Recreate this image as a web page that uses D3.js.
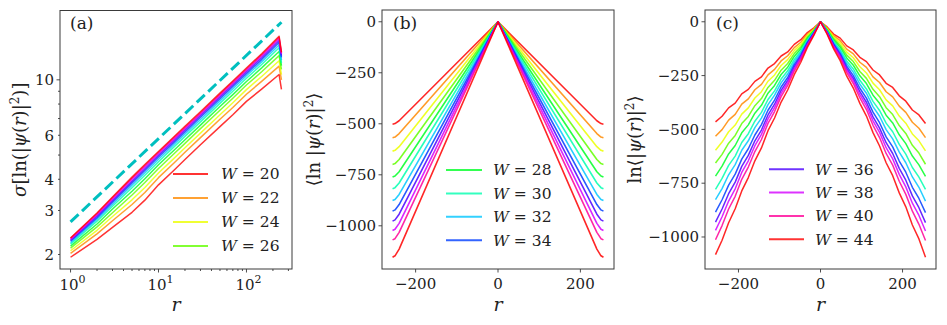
<!DOCTYPE html>
<html><head><meta charset="utf-8">
<script src="https://cdn.jsdelivr.net/npm/d3@7"></script>
<style>
body{margin:0;background:#fff;}
svg text{font-family:"DejaVu Serif","Liberation Serif",serif;fill:#222;}
</style></head><body>
<svg id="chart" width="947" height="325"></svg>
<script>
// ---------------- data ----------------
const W_values = [20,22,24,26,28,30,32,34,36,38,40,44];
const colors = ["#ff0000","#ff8900","#ecff00","#63ff00","#00ff26","#00ffaf","#00c6ff","#003dff","#4b00ff","#d400ff","#ff0098","#ff0000"];

// panel (a): sigma[ln|psi(r)|^2] vs r (log-log)
const rA = [1,2,3,5,7,10,15,20,30,50,70,100,150,235,250];
const sigmaA = [
 [1.95,2.30,2.57,2.95,3.30,3.80,4.35,4.80,5.50,6.50,7.25,8.20,9.20,10.5,9.15],
 [2.02,2.42,2.73,3.17,3.54,4.06,4.65,5.13,5.87,6.95,7.75,8.76,9.88,11.35,10.0],
 [2.07,2.50,2.84,3.31,3.71,4.24,4.85,5.35,6.12,7.25,8.10,9.14,10.34,11.92,10.5],
 [2.12,2.58,2.94,3.46,3.88,4.42,5.06,5.57,6.38,7.56,8.44,9.53,10.80,12.5,11.0],
 [2.16,2.65,3.04,3.58,4.02,4.57,5.23,5.76,6.59,7.82,8.73,9.85,11.19,12.99,11.4],
 [2.20,2.72,3.12,3.70,4.15,4.70,5.39,5.94,6.79,8.05,9.00,10.15,11.54,13.44,11.7],
 [2.23,2.77,3.18,3.79,4.25,4.81,5.51,6.07,6.94,8.24,9.21,10.38,11.83,13.79,12.0],
 [2.26,2.81,3.24,3.87,4.34,4.91,5.62,6.19,7.08,8.40,9.40,10.59,12.08,14.1,12.3],
 [2.28,2.85,3.29,3.93,4.41,4.99,5.72,6.30,7.20,8.55,9.56,10.77,12.29,14.37,12.5],
 [2.30,2.88,3.33,3.99,4.48,5.06,5.79,6.38,7.29,8.66,9.69,10.91,12.47,14.59,12.7],
 [2.32,2.91,3.37,4.04,4.53,5.12,5.86,6.45,7.37,8.76,9.79,11.03,12.61,14.77,12.8],
 [2.33,2.93,3.40,4.08,4.58,5.17,5.92,6.52,7.45,8.85,9.90,11.15,12.75,14.95,12.9]
];
const refR = [1,250];
const refV = [2.70,17.0];
const yTicksA = [2,3,4,6,10];
const yMinorA = [5,7,8,9];
const xTicksA = [1,10,100];
const xTickExpA = ["0","1","2"];
const xMinorA = [2,3,4,5,6,7,8,9,20,30,40,50,60,70,80,90,200,300];

// panel (b): <ln|psi(r)|^2>
const rB = [-256,-250,-240,0,240,250,256];
const lnMeanB = [
 [-502,-499,-485,0,-485,-499,-502],
 [-568,-565,-548,0,-548,-565,-568],
 [-634,-630,-612,0,-612,-630,-634],
 [-699,-695,-675,0,-675,-695,-699],
 [-761,-756,-735,0,-735,-756,-761],
 [-818,-813,-790,0,-790,-813,-818],
 [-876,-871,-846,0,-846,-871,-876],
 [-928,-922,-896,0,-896,-922,-928],
 [-977,-971,-943,0,-943,-971,-977],
 [-1023,-1017,-988,0,-988,-1017,-1023],
 [-1069,-1063,-1032,0,-1032,-1063,-1069],
 [-1154,-1147,-1114,0,-1114,-1147,-1154]
];

// panel (c): ln<|psi(r)|^2>, sampled at |r| = 16..256 on each side
const distC = [16,32,48,64,80,96,112,128,144,160,176,192,208,224,240,256];
const leftC = [
 [-28,-50,-83,-105,-140,-159,-194,-215,-256,-277,-314,-335,-378,-400,-439,-465],
 [-32,-57,-95,-120,-158,-182,-221,-247,-291,-316,-358,-383,-430,-457,-501,-532],
 [-35,-64,-105,-134,-176,-203,-247,-276,-325,-354,-400,-429,-480,-511,-559,-597],
 [-39,-71,-116,-148,-194,-225,-272,-305,-357,-390,-440,-473,-528,-564,-616,-656],
 [-42,-77,-125,-161,-211,-245,-296,-332,-388,-425,-479,-516,-575,-614,-671,-717],
 [-45,-84,-136,-175,-228,-266,-321,-361,-421,-462,-520,-561,-624,-667,-728,-779],
 [-48,-90,-144,-187,-243,-284,-341,-385,-448,-492,-553,-597,-664,-711,-775,-826],
 [-51,-96,-154,-199,-259,-303,-364,-411,-478,-526,-590,-638,-708,-759,-827,-884],
 [-54,-101,-162,-210,-272,-319,-383,-433,-503,-553,-621,-672,-745,-799,-870,-931],
 [-56,-106,-168,-219,-283,-333,-399,-451,-523,-576,-646,-700,-776,-833,-906,-969],
 [-58,-111,-176,-229,-296,-348,-417,-472,-547,-603,-675,-732,-811,-870,-947,-1013],
 [-62,-119,-188,-246,-317,-373,-447,-506,-586,-646,-724,-786,-869,-934,-1015,-1082]
];
const rightC = [
 [-24,-57,-76,-112,-131,-165,-185,-224,-247,-286,-305,-344,-369,-410,-433,-473],
 [-28,-64,-88,-127,-149,-188,-212,-256,-282,-325,-349,-392,-421,-467,-495,-538],
 [-31,-71,-98,-141,-167,-209,-238,-285,-316,-363,-391,-438,-471,-521,-553,-600],
 [-35,-78,-109,-155,-185,-231,-263,-314,-348,-399,-431,-482,-519,-574,-610,-662],
 [-38,-84,-118,-168,-202,-251,-287,-341,-379,-434,-470,-525,-566,-624,-665,-718],
 [-41,-91,-129,-182,-219,-272,-312,-370,-412,-471,-511,-570,-615,-677,-722,-779],
 [-44,-97,-137,-194,-234,-290,-332,-394,-439,-501,-544,-606,-655,-721,-769,-833],
 [-47,-103,-147,-206,-250,-309,-355,-420,-469,-535,-581,-647,-699,-769,-821,-887],
 [-50,-108,-155,-217,-263,-325,-374,-442,-494,-562,-612,-681,-736,-809,-864,-933],
 [-52,-113,-161,-226,-274,-339,-390,-460,-514,-585,-637,-709,-767,-843,-900,-972],
 [-54,-118,-169,-236,-287,-354,-408,-481,-538,-612,-666,-741,-802,-880,-941,-1016],
 [-58,-126,-181,-253,-308,-379,-438,-515,-577,-655,-715,-795,-860,-944,-1009,-1094]
];
const xTicksBC = [-200,0,200];
const yTicksBC = [0,-250,-500,-750,-1000];
const legendA = [20,22,24,26];
const legendB = [28,30,32,34];
const legendC = [36,38,40,44];

// ---------------- drawing ----------------
const svg = d3.select("#chart");
const FRAME = "#3a3a3a";
const TICKF = 15;

function pad(lo, hi){ const d=(hi-lo)*0.05; return [lo-d, hi+d]; }

function frame(g, L, R, T, B){
  g.append("rect").attr("x",L).attr("y",T).attr("width",R-L).attr("height",B-T)
    .attr("fill","none").attr("stroke",FRAME).attr("stroke-width",1);
}
function xTick(g, x, B, len){
  g.append("line").attr("x1",x).attr("x2",x).attr("y1",B).attr("y2",B+len)
   .attr("stroke",FRAME).attr("stroke-width",0.9);
}
function yTick(g, y, L, len){
  g.append("line").attr("x1",L).attr("x2",L-len).attr("y1",y).attr("y2",y)
   .attr("stroke",FRAME).attr("stroke-width",0.9);
}
const fmtMinus = v => (v<0 ? "\u2212"+Math.abs(v) : ""+v);

function yLabel(g, x, y, parts){
  const t = g.append("text").attr("transform",`translate(${x},${y}) rotate(-90)`)
    .attr("text-anchor","middle").attr("font-size",18);
  parts.forEach(p=>{
    const s = t.append("tspan").text(p.t);
    if(p.i) s.attr("font-style","italic");
    if(p.sup){ s.attr("font-size",12).attr("dy",-7); }
    if(p.down){ s.attr("dy",7); }
  });
}
function xLabel(g, x, y){
  g.append("text").attr("x",x).attr("y",y).attr("text-anchor","middle")
   .attr("font-size",19).attr("font-style","italic").text("r");
}
function panelTag(g, x, y, s){
  g.append("text").attr("x",x).attr("y",y).attr("font-size",17).text(s);
}
function legend(g, list, x0, x1, tx, y0, dy){
  list.forEach((w,k)=>{
    const i = W_values.indexOf(w);
    const y = y0 + k*dy;
    g.append("line").attr("x1",x0).attr("x2",x1).attr("y1",y).attr("y2",y)
      .attr("stroke",colors[i]).attr("stroke-opacity",0.8).attr("stroke-width",2);
    const t = g.append("text").attr("x",tx).attr("y",y).attr("dy","0.35em").attr("font-size",15.5);
    t.append("tspan").attr("font-style","italic").text("W");
    t.append("tspan").text(" = "+w);
  });
}

// ---- panel (a)
{
  const g = svg.append("g");
  const L=60, R=292, T=10.5, B=269;
  const allV = sigmaA.flat().concat(refV);
  const ly = pad(Math.log10(d3.min(allV)), Math.log10(d3.max(allV)));
  const lx = pad(Math.log10(d3.min(rA)), Math.log10(d3.max(rA)));
  const x = d3.scaleLog().domain([10**lx[0],10**lx[1]]).range([L,R]);
  const y = d3.scaleLog().domain([10**ly[0],10**ly[1]]).range([B,T]);
  const line = d3.line().x(d=>x(d[0])).y(d=>y(d[1]));
  sigmaA.forEach((vals,i)=>{
    g.append("path").attr("d",line(rA.map((r,k)=>[r,vals[k]])))
     .attr("fill","none").attr("stroke",colors[i]).attr("stroke-opacity",0.8)
     .attr("stroke-width",1.5).attr("stroke-linejoin","round");
  });
  g.append("path").attr("d",line(refR.map((r,k)=>[r,refV[k]])))
    .attr("fill","none").attr("stroke","#00bfbf").attr("stroke-width",3)
    .attr("stroke-dasharray","11,4.8");
  frame(g,L,R,T,B);
  xTicksA.forEach((v,k)=>{
    xTick(g,x(v),B,3.5);
    const t = g.append("text").attr("x",x(v)+2).attr("y",B+21).attr("text-anchor","middle").attr("font-size",TICKF);
    t.append("tspan").text("10");
    t.append("tspan").attr("font-size",11).attr("dy",-7).text(xTickExpA[k]);
  });
  xMinorA.forEach(v=>{ if(x(v)<R) xTick(g,x(v),B,2); });
  yTicksA.forEach(v=>{
    yTick(g,y(v),L, v===10?3.5:2);
    g.append("text").attr("x",L-6).attr("y",y(v)).attr("dy","0.35em")
     .attr("text-anchor","end").attr("font-size",TICKF).text(v);
  });
  yMinorA.forEach(v=>yTick(g,y(v),L,2));
  yLabel(g, 26, (T+B)/2, [{t:"σ",i:1},{t:"[ln(|"},{t:"ψ",i:1},{t:"("},{t:"r",i:1},{t:")|"},{t:"2",sup:1},{t:")]",down:1}]);
  xLabel(g,(L+R)/2,311);
  panelTag(g,70,29,"(a)");
  legend(g, legendA, 173, 208, 221, 174, 24);
}

// ---- panel (b)
{
  const g = svg.append("g");
  const L=382, R=614, T=10, B=269;
  const x = d3.scaleLinear().domain(pad(d3.min(rB),d3.max(rB))).range([L,R]);
  const allV = lnMeanB.flat();
  const y = d3.scaleLinear().domain(pad(d3.min(allV),d3.max(allV))).range([B,T]);
  const line = d3.line().x(d=>x(d[0])).y(d=>y(d[1]));
  lnMeanB.forEach((vals,i)=>{
    g.append("path").attr("d",line(rB.map((r,k)=>[r,vals[k]])))
     .attr("fill","none").attr("stroke",colors[i]).attr("stroke-opacity",0.85)
     .attr("stroke-width",1.6).attr("stroke-linejoin","round");
  });
  frame(g,L,R,T,B);
  xTicksBC.forEach(v=>{
    xTick(g,x(v),B,3.5);
    g.append("text").attr("x",x(v)).attr("y",B+20).attr("text-anchor","middle").attr("font-size",TICKF).text(fmtMinus(v));
  });
  yTicksBC.forEach(v=>{
    yTick(g,y(v),L,3.5);
    g.append("text").attr("x",L-6).attr("y",y(v)).attr("dy","0.35em").attr("text-anchor","end").attr("font-size",TICKF).text(fmtMinus(v));
  });
  yLabel(g, 320, (T+B)/2, [{t:"⟨ln |"},{t:"ψ",i:1},{t:"("},{t:"r",i:1},{t:")|"},{t:"2",sup:1},{t:"⟩",down:1}]);
  xLabel(g,(L+R)/2,311);
  panelTag(g,393,29,"(b)");
  legend(g, legendB, 446, 482, 493, 170, 23.4);
}

// ---- panel (c)
{
  const g = svg.append("g");
  const L=705, R=936, T=10, B=269;
  const rMax = d3.max(distC);
  const x = d3.scaleLinear().domain(pad(-rMax,rMax)).range([L,R]);
  const series = leftC.map((lv,i)=>{
    const pts = distC.map((d,k)=>[-d,lv[k]]).reverse();
    pts.push([0,0]);
    distC.forEach((d,k)=>pts.push([d,rightC[i][k]]));
    return pts;
  });
  const allV = series.flat().map(p=>p[1]);
  const y = d3.scaleLinear().domain(pad(d3.min(allV),d3.max(allV))).range([B,T]);
  const line = d3.line().x(d=>x(d[0])).y(d=>y(d[1]));
  series.forEach((pts,i)=>{
    g.append("path").attr("d",line(pts))
     .attr("fill","none").attr("stroke",colors[i]).attr("stroke-opacity",0.85)
     .attr("stroke-width",1.5).attr("stroke-linejoin","round");
  });
  frame(g,L,R,T,B);
  xTicksBC.forEach(v=>{
    xTick(g,x(v),B,3.5);
    g.append("text").attr("x",x(v)).attr("y",B+20).attr("text-anchor","middle").attr("font-size",TICKF).text(fmtMinus(v));
  });
  yTicksBC.forEach(v=>{
    yTick(g,y(v),L,3.5);
    g.append("text").attr("x",L-6).attr("y",y(v)).attr("dy","0.35em").attr("text-anchor","end").attr("font-size",TICKF).text(fmtMinus(v));
  });
  yLabel(g, 641, (T+B)/2, [{t:"ln⟨|"},{t:"ψ",i:1},{t:"("},{t:"r",i:1},{t:")|"},{t:"2",sup:1},{t:"⟩",down:1}]);
  xLabel(g,(L+R)/2,311);
  panelTag(g,716,29,"(c)");
  legend(g, legendC, 769, 804, 815, 169.3, 23.3);
}
</script>
</body></html>
